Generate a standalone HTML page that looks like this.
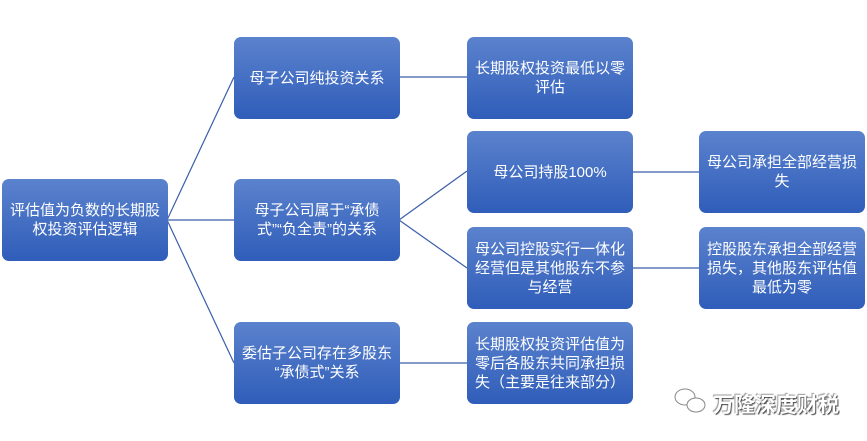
<!DOCTYPE html>
<html><head><meta charset="utf-8"><style>
body{margin:0;width:867px;height:441px;background:#fff;position:relative;overflow:hidden;font-family:"Liberation Sans","Noto Sans CJK SC",sans-serif}
.b{position:absolute;width:166px;height:82px;border-radius:7px;background:linear-gradient(#5b82cd,#2f5db9);color:#fff;font-size:15px;line-height:19px;display:flex;align-items:center;justify-content:center;text-align:center;padding:0 6px;box-sizing:border-box}
svg{position:absolute;left:0;top:0}
</style></head><body>
<svg width="867" height="441"><g stroke="#3a5ea8" stroke-width="1.2" fill="none">
<line x1="167" y1="220" x2="234" y2="77"/><line x1="167" y1="220" x2="234" y2="220"/><line x1="167" y1="220" x2="234" y2="363"/>
<line x1="399" y1="77" x2="467" y2="77"/><line x1="399" y1="220" x2="467" y2="171"/><line x1="399" y1="220" x2="467" y2="268"/>
<line x1="399" y1="363" x2="467" y2="363"/><line x1="632" y1="172" x2="699" y2="172"/><line x1="632" y1="268" x2="699" y2="268"/>
</g>
<g stroke="#888" stroke-width="1" fill="#fff"><ellipse cx="685" cy="397" rx="10" ry="8"/><ellipse cx="696" cy="405" rx="9" ry="7"/></g>
</svg>
<div class="b" style="left:2px;top:179px">评估值为负数的长期股权投资评估逻辑</div>
<div class="b" style="left:234px;top:37px">母子公司纯投资关系</div>
<div class="b" style="left:234px;top:179px;padding:0 20px">母子公司属于“承债式”“负全责”的关系</div>
<div class="b" style="left:234px;top:322px;padding:0 2px">委估子公司存在多股东<br>“承债式”关系</div>
<div class="b" style="left:467px;top:37px">长期股权投资最低以零评估</div>
<div class="b" style="left:467px;top:131px">母公司持股100%</div>
<div class="b" style="left:467px;top:227px">母公司控股实行一体化经营但是其他股东不参与经营</div>
<div class="b" style="left:467px;top:322px">长期股权投资评估值为零后各股东共同承担损失（主要是往来部分）</div>
<div class="b" style="left:699px;top:131px">母公司承担全部经营损失</div>
<div class="b" style="left:699px;top:227px">控股股东承担全部经营损失，其他股东评估值最低为零</div>
<div style="position:absolute;left:713px;top:389px;font-size:21px;color:#fff;text-shadow:1px 1px 1px #444,-1px -1px 1px #999;font-weight:bold;letter-spacing:0px">万隆深度财税</div>
</body></html>
